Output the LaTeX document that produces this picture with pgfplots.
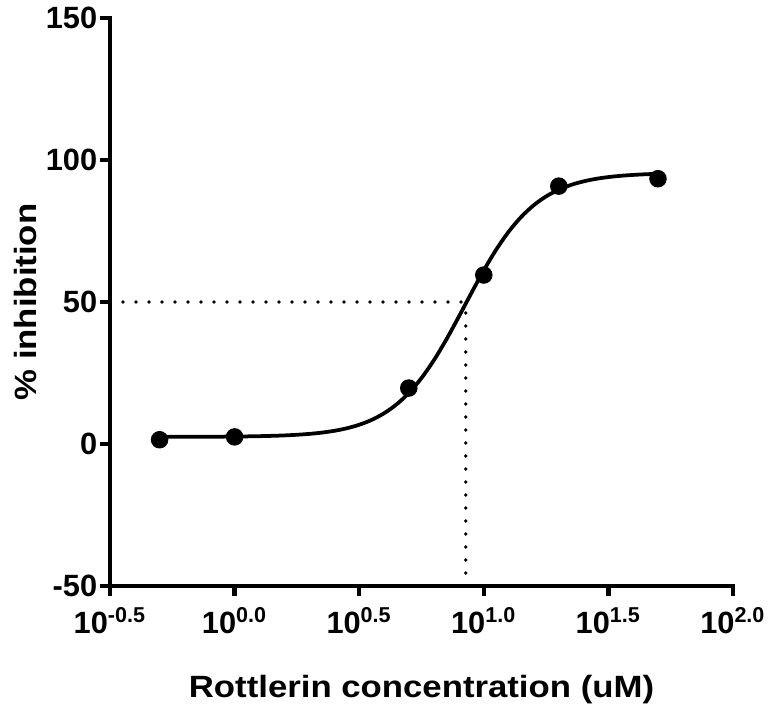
\documentclass[border=0pt]{standalone}
\usepackage{fontspec}
\setmainfont{Liberation Sans}
\newfontfamily\labelfont{Liberation Sans}[FakeStretch=1.13]
\usepackage{pgfplots}
\pgfplotsset{compat=1.18}
\begin{document}
\begin{tikzpicture}
\path[use as bounding box] (-44pt,-52pt) rectangle (264.4pt,234.4pt);
\begin{axis}[
  scale only axis,
  width=249.2pt, height=227.2pt,
  xmin=-0.5, xmax=2.0, ymin=-50, ymax=150,
  axis x line*=bottom, axis y line*=left,
  axis line style={line width=1.7pt, line cap=rect},
  tick align=outside,
  major tick length=4pt,
  every tick/.style={black, line width=1.7pt},
  xtick={-0.5,0,0.5,1,1.5,2},
  xticklabels={10\textsuperscript{-0.5},10\textsuperscript{0.0},10\textsuperscript{0.5},10\textsuperscript{1.0},10\textsuperscript{1.5},10\textsuperscript{2.0}},
  ytick={-50,0,50,100,150},
  yticklabels={-50,0,50,100,150},
  ticklabel style={font=\fontsize{12.3}{14}\selectfont\bfseries},
  xticklabel style={yshift=-1pt},
  yticklabel style={xshift=2.4pt},
  xlabel={Rottlerin concentration (uM)},
  ylabel={\% inhibition},
  label style={font=\fontsize{12.3}{14}\selectfont\labelfont\bfseries},
  xlabel style={at={(axis description cs:0.5,-0.183)}, anchor=center},
  ylabel style={at={(axis description cs:-0.1364,0.5)}, anchor=center, rotate=0},
  clip=false,
]
\addplot[black, line width=1.5pt, dash pattern=on 0pt off 5.2pt, line cap=round] coordinates {(-0.5,50) (0.928,50)};
\addplot[black, line width=1.5pt, dash pattern=on 0pt off 5.2pt, line cap=round] coordinates {(0.928,-50) (0.928,50)};
\addplot[black, line width=1.5pt, smooth] coordinates {
(-0.3,2.51) (-0.25,2.52) (-0.2,2.53) (-0.15,2.54) (-0.1,2.56) (-0.05,2.59)
(0.0,2.63) (0.05,2.68) (0.1,2.76) (0.15,2.87) (0.2,3.02) (0.25,3.25)
(0.3,3.56) (0.35,4.01) (0.4,4.64) (0.45,5.53) (0.5,6.77) (0.55,8.48)
(0.6,10.83) (0.65,13.95) (0.7,18.04) (0.75,23.23) (0.8,29.53) (0.85,36.84)
(0.9,44.87) (0.95,53.13) (1.0,61.16) (1.05,68.47) (1.1,74.77) (1.15,79.95)
(1.2,84.05) (1.25,87.18) (1.3,89.51) (1.35,91.23) (1.4,92.47) (1.45,93.36)
(1.5,93.99) (1.55,94.44) (1.6,94.75) (1.65,94.98) (1.7,95.13)
};
\addplot[only marks, mark=*, mark size=3.3pt, black] coordinates {
(-0.301,1.5) (0.0,2.5) (0.699,19.7) (1.0,59.5) (1.301,90.8) (1.699,93.4)
};
\end{axis}
\end{tikzpicture}
\end{document}
